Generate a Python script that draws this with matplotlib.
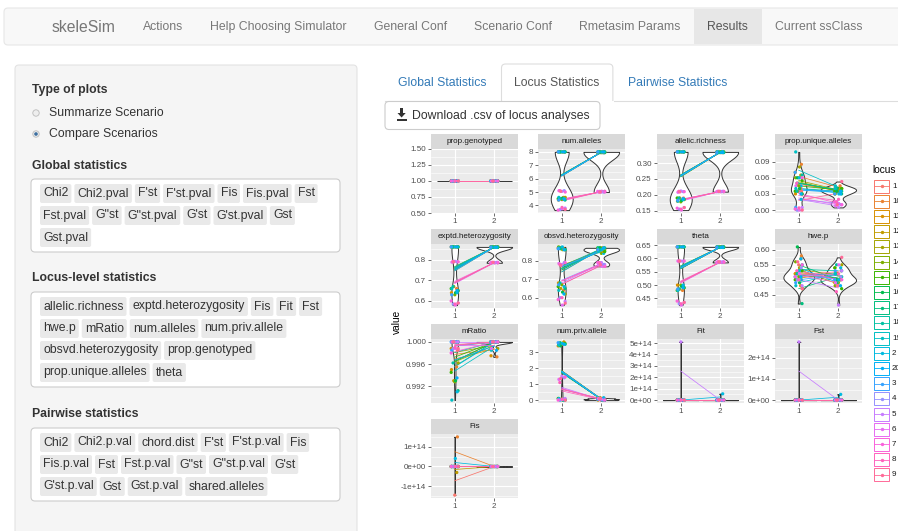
import numpy as np
import matplotlib
matplotlib.use('Agg')
import matplotlib.pyplot as plt
from matplotlib import mlab
from matplotlib.patches import Rectangle, FancyBboxPatch, Circle, Polygon

plt.rcParams['font.family'] = ['Liberation Sans', 'DejaVu Sans']

# ---------------- page texts ----------------
brand = 'skeleSim'
nav_items = ['Actions', 'Help Choosing Simulator', 'General Conf', 'Scenario Conf',
             'Rmetasim Params', 'Results', 'Current ssClass']
active_nav = 'Results'
plot_types = ['Summarize Scenario', 'Compare Scenarios']
global_rows = [['Chi2', 'Chi2.pval', "F'st", "F'st.pval", 'Fis', 'Fis.pval', 'Fst'],
               ['Fst.pval', 'G"st', 'G"st.pval', "G'st", "G'st.pval", 'Gst'],
               ['Gst.pval']]
locus_rows = [['allelic.richness', 'exptd.heterozygosity', 'Fis', 'Fit', 'Fst'],
              ['hwe.p', 'mRatio', 'num.alleles', 'num.priv.allele'],
              ['obsvd.heterozygosity', 'prop.genotyped'],
              ['prop.unique.alleles', 'theta']]
pair_rows = [['Chi2', 'Chi2.p.val', 'chord.dist', "F'st", "F'st.p.val", 'Fis'],
             ['Fis.p.val', 'Fst', 'Fst.p.val', 'G"st', 'G"st.p.val', "G'st"],
             ["G'st.p.val", 'Gst', 'Gst.p.val', 'shared.alleles']]
tabs = ['Global Statistics', 'Locus Statistics', 'Pairwise Statistics']
active_tab = 'Locus Statistics'
button_text = 'Download .csv of locus analyses'

# ---------------- chart data ----------------
# loci in legend order; per stat: two replicates for scenario 1 (_1a, _1b) and scenario 2 (_2a, _2b)
levels = ['1', '10', '11', '12', '13', '14', '15', '16', '17', '18',
          '19', '2', '20', '3', '4', '5', '6', '7', '8', '9']

pg_1a = [1.0] * 20
pg_1b = [1.0] * 20
pg_2a = [1.0] * 20
pg_2b = [1.0] * 20

na_1a = [8.0] * 14 + [5.1, 5.05, 5.1, 5.0, 5.1, 5.05]
na_1b = [4.5, 4.6, 4.4, 4.5, 4.6, 4.45, 4.5, 4.55, 4.4, 4.5, 4.6, 4.45, 4.5, 4.4,
         3.7, 3.8, 3.75, 3.65, 3.85, 3.7]
na_2a = [7.95] * 14 + [5.05] * 6
na_2b = [8.0] * 14 + [5.0] * 6

ar_1a = [0.335] * 14 + [0.21, 0.212, 0.208, 0.21, 0.211, 0.209]
ar_1b = [0.19, 0.185, 0.18, 0.19, 0.185, 0.178, 0.19, 0.182, 0.186, 0.19, 0.18, 0.185, 0.188, 0.183,
         0.155, 0.16, 0.152, 0.158, 0.155, 0.16]
ar_2a = [0.335] * 14 + [0.21] * 6
ar_2b = [0.333] * 14 + [0.211] * 6

pu_1a = [0.06, 0.085, 0.07, 0.065, 0.08, 0.06, 0.055, 0.06, 0.05, 0.065,
         0.108, 0.06, 0.045, 0.07, 0.04, 0.035, 0.045, 0.06, 0.05, 0.035]
pu_1b = [0.035, 0.04, 0.03, 0.035, 0.03, 0.045, 0.035, 0.04, 0.03, 0.035,
         0.04, 0.02, 0.03, 0.005, 0.0, 0.005, 0.0, 0.002, 0.004, 0.0]
pu_2a = [0.04, 0.045, 0.04, 0.035, 0.04, 0.04, 0.035, 0.04, 0.03, 0.04,
         0.045, 0.035, 0.03, 0.04, 0.015, 0.01, 0.012, 0.015, 0.02, 0.053]
pu_2b = [0.035, 0.04, 0.03, 0.04, 0.035, 0.03, 0.04, 0.035, 0.04, 0.035,
         0.04, 0.03, 0.035, 0.03, 0.01, 0.005, 0.008, 0.01, 0.015, 0.01]

eh_1a = [0.862] * 14 + [0.79, 0.792, 0.788, 0.79, 0.791, 0.789]
eh_1b = [0.65, 0.66, 0.64, 0.67, 0.65, 0.63, 0.66, 0.64, 0.65, 0.67, 0.66, 0.64, 0.65, 0.63,
         0.585, 0.59, 0.58, 0.6, 0.585, 0.59]
eh_2a = [0.862] * 14 + [0.785] * 6
eh_2b = [0.86] * 14 + [0.787] * 6

oh_1a = [0.87, 0.86, 0.87, 0.865, 0.86, 0.875, 0.86, 0.87, 0.865, 0.86, 0.87, 0.875, 0.86, 0.865,
         0.79, 0.78, 0.785, 0.79, 0.78, 0.775]
oh_1b = [0.66, 0.64, 0.68, 0.65, 0.62, 0.67, 0.66, 0.63, 0.65, 0.68, 0.64, 0.66, 0.62, 0.67,
         0.6, 0.58, 0.56, 0.59, 0.6, 0.57]
oh_2a = [0.87, 0.86, 0.85, 0.87, 0.86, 0.84, 0.87, 0.86, 0.85, 0.86, 0.87, 0.84, 0.86, 0.85,
         0.79, 0.78, 0.77, 0.79, 0.78, 0.77]
oh_2b = [0.86, 0.87, 0.86, 0.85, 0.87, 0.86, 0.85, 0.87, 0.86, 0.87, 0.85, 0.86, 0.87, 0.86,
         0.78, 0.79, 0.78, 0.77, 0.79, 0.78]

th_1a = [0.643] * 14 + [0.59] * 6
th_1b = [0.49, 0.48, 0.5, 0.485, 0.49, 0.5, 0.48, 0.495, 0.49, 0.485, 0.48, 0.5, 0.49, 0.485,
         0.43, 0.435, 0.425, 0.44, 0.43, 0.435]
th_2a = [0.643] * 14 + [0.585] * 6
th_2b = [0.641] * 14 + [0.587] * 6

hw_1a = [0.55, 0.58, 0.52, 0.57, 0.54, 0.56, 0.53, 0.61, 0.52, 0.55,
         0.5, 0.53, 0.57, 0.51, 0.54, 0.52, 0.5, 0.55, 0.53, 0.56]
hw_1b = [0.5, 0.48, 0.52, 0.5, 0.47, 0.51, 0.5, 0.49, 0.42, 0.52,
         0.48, 0.5, 0.51, 0.49, 0.5, 0.48, 0.52, 0.51, 0.5, 0.47]
hw_2a = [0.53, 0.5, 0.54, 0.52, 0.55, 0.49, 0.54, 0.5, 0.53, 0.55,
         0.52, 0.54, 0.5, 0.53, 0.49, 0.53, 0.55, 0.5, 0.52, 0.575]
hw_2b = [0.48, 0.5, 0.49, 0.51, 0.5, 0.48, 0.47, 0.5, 0.49, 0.51,
         0.52, 0.5, 0.48, 0.5, 0.51, 0.415, 0.49, 0.5, 0.46, 0.48]

mr_1a = [1.0, 1.0, 0.9988, 1.0, 1.0, 1.0, 1.0, 1.0, 1.0, 1.0,
         1.0, 1.0, 1.0, 1.0, 1.0, 1.0, 1.0, 0.9985, 1.0, 1.0]
mr_1b = [0.9985, 0.9955, 0.995, 0.993, 0.9962, 0.9928, 0.9945, 0.993, 0.9912, 0.9962,
         0.9895, 0.991, 0.9935, 0.9985, 0.9988, 1.0, 0.9988, 0.998, 0.999, 0.9988]
mr_2a = [1.0, 1.0, 0.9975, 1.0, 0.9988, 1.0, 1.0, 1.0, 1.0, 1.0,
         1.0, 1.0, 0.9985, 1.0, 1.0, 1.0, 1.0, 1.0, 1.0, 1.0]
mr_2b = [1.0, 0.9973, 1.0, 1.0, 1.0, 0.9988, 1.0, 1.0, 1.0, 1.0,
         0.9985, 1.0, 1.0, 1.0, 1.0, 1.0, 0.9988, 1.0, 1.0, 1.0]

np_1a = [3.5, 3.6, 3.4, 3.65, 3.5, 3.45, 3.55, 3.4, 3.6, 3.5, 3.45, 3.55, 3.5, 3.6,
         1.4, 1.5, 1.3, 1.45, 1.1, 1.35]
np_1b = [0.05, 0.0, 0.1, 0.05, 0.0, 0.05, 0.1, 0.0, 0.05, 0.0,
         0.1, 0.05, 0.0, 0.05, 0.0, 0.1, 0.05, 0.0, 0.05, 0.0]
np_2a = [0.05, 0.1, 0.0, 0.15, 0.05, 0.0, 0.1, 0.05, 0.0, 0.1,
         0.05, 0.15, 0.0, 0.05, 0.1, 0.0, 0.05, 0.1, 0.0, 0.05]
np_2b = [0.0, 0.05, 0.1, 0.0, 0.05, 0.1, 0.0, 0.05, 0.1, 0.0,
         0.05, 0.0, 0.1, 0.05, 0.0, 0.05, 0.1, 0.0, 0.05, 0.1]

fit_1a = [0.01, 0.0, 0.02, 0.01, 0.0, 0.03, 0.01, 0.02, 0.0, 0.01,
          0.02, 0.0, 0.01, 0.03, 0.02, 5.1e14, 0.01, 0.0, 0.02, 0.01]
fit_1b = [0.02, 0.01, 0.0, 0.03, 0.01, 0.02, 0.0, 0.01, 0.02, 0.0,
          0.01, 0.03, 0.02, 0.0, 0.01, 0.02, 0.0, 0.01, 0.03, 0.02]
fit_2a = [0.0, 0.02, 0.01, 0.0, 0.02, 0.01, 0.03, 0.0, 0.01, 0.02,
          0.01, 0.55e14, 0.0, 0.02, 0.01, 0.0, 0.02, 0.01, 0.0, 0.03]
fit_2b = [0.01, 0.0, 0.02, 0.01, 0.0, 0.02, 0.01, 0.03, 0.0, 0.01,
          0.02, 0.0, 0.01, 0.0, 0.02, 0.01, 0.0, 0.02, 0.01, 0.0]

fst_1a = [0.01, 0.0, 0.02, 0.01, 0.0, 0.03, 0.01, 0.02, 0.0, 0.01,
          0.02, 0.0, 0.01, 0.03, 0.02, 2.75e14, 0.01, 0.0, 0.02, 0.01]
fst_1b = [0.02, 0.01, 0.0, 0.03, 0.01, 0.02, 0.0, 0.01, 0.02, 0.0,
          0.01, 0.03, 0.02, 0.0, 0.01, 0.02, 0.0, 0.01, 0.03, 0.02]
fst_2a = [0.0, 0.02, 0.01, 0.0, 0.02, 0.01, 0.03, 0.0, 0.01, 0.02,
          0.01, 0.27e14, 0.0, 0.02, 0.01, 0.0, 0.02, 0.01, 0.0, 0.03]
fst_2b = [0.01, 0.0, 0.02, 0.01, 0.0, 0.02, 0.01, 0.03, 0.0, 0.01,
          0.02, 0.0, 0.01, 0.0, 0.02, 0.01, 0.0, 0.02, 0.01, 0.0]

fis_1a = [-1.43e14, 1.48e14, 0.02, -0.3e14, 0.0, -0.01, 0.02, 0.01, -0.02, 0.0,
          0.01, 0.4e14, 0.0, 0.02, -0.01, 0.0, 0.01, -0.02, 0.0, 0.01]
fis_1b = [0.01, -0.02, 0.0, 0.01, 0.02, 0.0, -0.01, 0.0, 0.01, -0.01,
          0.02, 0.0, 0.01, -0.02, 0.0, 0.01, 0.0, -0.01, 0.02, 0.0]
fis_2a = [0.0, 0.01, -0.01, 0.02, 0.0, -0.02, 0.01, 0.0, 0.02, -0.01,
          0.0, 0.01, -0.01, 0.0, 0.02, 0.0, -0.01, 0.01, 0.0, 0.02]
fis_2b = [0.01, 0.0, 0.02, -0.01, 0.01, 0.0, -0.02, 0.01, 0.0, 0.01,
          -0.01, 0.0, 0.02, 0.01, 0.0, -0.01, 0.0, 0.02, -0.01, 0.0]

facets = [
    ('prop.genotyped', pg_1a, pg_1b, pg_2a, pg_2b, [0.5, 0.75, 1.0, 1.25, 1.5], ['0.50', '0.75', '1.00', '1.25', '1.50']),
    ('num.alleles', na_1a, na_1b, na_2a, na_2b, [4, 5, 6, 7, 8], ['4', '5', '6', '7', '8']),
    ('allelic.richness', ar_1a, ar_1b, ar_2a, ar_2b, [0.15, 0.2, 0.25, 0.3], ['0.15', '0.20', '0.25', '0.30']),
    ('prop.unique.alleles', pu_1a, pu_1b, pu_2a, pu_2b, [0.0, 0.03, 0.06, 0.09], ['0.00', '0.03', '0.06', '0.09']),
    ('exptd.heterozygosity', eh_1a, eh_1b, eh_2a, eh_2b, [0.6, 0.7, 0.8], ['0.6', '0.7', '0.8']),
    ('obsvd.heterozygosity', oh_1a, oh_1b, oh_2a, oh_2b, [0.6, 0.7, 0.8], ['0.6', '0.7', '0.8']),
    ('theta', th_1a, th_1b, th_2a, th_2b, [0.45, 0.5, 0.55, 0.6, 0.65], ['0.45', '0.50', '0.55', '0.60', '0.65']),
    ('hwe.p', hw_1a, hw_1b, hw_2a, hw_2b, [0.45, 0.5, 0.55, 0.6], ['0.45', '0.50', '0.55', '0.60']),
    ('mRatio', mr_1a, mr_1b, mr_2a, mr_2b, [0.992, 0.996, 1.0], ['0.992', '0.996', '1.000']),
    ('num.priv.allele', np_1a, np_1b, np_2a, np_2b, [0, 1, 2, 3], ['0', '1', '2', '3']),
    ('Fit', fit_1a, fit_1b, fit_2a, fit_2b, [0, 1e14, 2e14, 3e14, 4e14, 5e14],
     ['0e+00', '1e+14', '2e+14', '3e+14', '4e+14', '5e+14']),
    ('Fst', fst_1a, fst_1b, fst_2a, fst_2b, [0, 1e14, 2e14], ['0e+00', '1e+14', '2e+14']),
    ('Fis', fis_1a, fis_1b, fis_2a, fis_2b, [-1e14, 0, 1e14], ['-1e+14', '0e+00', '1e+14']),
]


def hue_pal(n, c=100.0, l=65.0):
    # ggplot2 default discrete palette (polar Luv -> sRGB)
    m = np.array([[3.2404542, -1.5371385, -0.4985314],
                  [-0.9692660, 1.8760108, 0.0415560],
                  [0.0556434, -0.2040259, 1.0572252]])
    un, vn = 0.1978398, 0.4683363
    out = []
    for h in np.linspace(15, 375, n + 1)[:n]:
        u = c * np.cos(np.deg2rad(h))
        v = c * np.sin(np.deg2rad(h))
        Y = ((l + 16) / 116) ** 3
        up = u / (13 * l) + un
        vp = v / (13 * l) + vn
        X = Y * 9 * up / (4 * vp)
        Z = Y * (12 - 3 * up - 20 * vp) / (4 * vp)
        rgb = m @ np.array([X, Y, Z])
        rgb = np.clip(rgb, 0, None)
        rgb = np.where(rgb <= 0.0031308, 12.92 * rgb, 1.055 * rgb ** (1 / 2.4) - 0.055)
        out.append(tuple(np.clip(rgb, 0, 1)))
    return out


def nrd0(x):
    hi = np.std(x, ddof=1)
    q75, q25 = np.percentile(x, [75, 25])
    lo = min(hi, (q75 - q25) / 1.34)
    if lo == 0:
        lo = hi or abs(x[0]) or 1.0
    return 0.9 * lo * len(x) ** -0.2


cols = hue_pal(len(levels))
W, H = 898, 531
fig = plt.figure(figsize=(W / 100, H / 100), dpi=100)
fig.patch.set_facecolor('white')
ui = fig.add_axes([0, 0, 1, 1])
ui.set_xlim(0, W)
ui.set_ylim(H, 0)
ui.axis('off')
rend = fig.canvas.get_renderer()
UI = 8.85


def rbox(x, y, w, h, fc, ec, rad=4, lw=0.8, z=1):
    ui.add_patch(FancyBboxPatch((x, y), w, h, boxstyle='round,pad=0,rounding_size=%g' % rad,
                                fc=fc, ec=ec, lw=lw, zorder=z))


def width_of(t):
    return t.get_window_extent(renderer=rend).width


# navbar
rbox(4, 8, 910, 37, '#f8f8f8', '#e7e7e7')
ui.text(52, 27, brand, fontsize=11.3, color='#777777', va='center', zorder=3)
x = 143
for item in nav_items:
    t = ui.text(x, 27, item, fontsize=UI, color='#777777', va='center', zorder=3)
    w = width_of(t)
    if item == active_nav:
        ui.add_patch(Rectangle((x - 13.5, 8.6), w + 27, 35.8, fc='#e7e7e7', ec='none', zorder=2))
        t.set_color('#555555')
    x += w + 27

# sidebar
rbox(15, 65, 342, 500, '#f5f5f5', '#e3e3e3')
ui.text(32, 90, 'Type of plots', fontsize=UI, fontweight='bold', color='#333333', va='center')
for k, lab in enumerate(plot_types):
    yc = 113 + 21 * k
    ui.add_patch(Circle((36, yc), 3.2, fc='#eeeeee', ec='#bbbbbb', lw=0.6, zorder=2))
    if k == 1:
        ui.add_patch(Circle((36, yc), 1.8, fc='#3d6fa0', ec='none', zorder=3))
    ui.text(49, yc, lab, fontsize=UI, color='#333333', va='center')


def tag_block(title, rows, ytitle, ybox, hbox):
    ui.text(32, ytitle, title, fontsize=UI, fontweight='bold', color='#333333', va='center')
    rbox(31, ybox, 309, hbox, 'white', '#cccccc', z=2)
    for k, row in enumerate(rows):
        yc = ybox + 14.5 + 22 * k
        xx = 40
        for lab in row:
            t = ui.text(xx + 3, yc, lab, fontsize=UI, color='#333333', va='center', zorder=4)
            w = width_of(t)
            ui.add_patch(FancyBboxPatch((xx, yc - 9.5), w + 6, 19, boxstyle='round,pad=0,rounding_size=2',
                                        fc='#e9e9e9', ec='none', zorder=3))
            xx += w + 9


tag_block('Global statistics', global_rows, 166, 179, 73)
tag_block('Locus-level statistics', locus_rows, 278, 292, 95)
tag_block('Pairwise statistics', pair_rows, 414, 428, 73)

# tabs
ui.plot([385, W], [100.5, 100.5], color='#dddddd', lw=0.8, zorder=1)
x = 385
for tab in tabs:
    t = ui.text(x + 13, 83, tab, fontsize=UI, va='center', zorder=4,
                color='#555555' if tab == active_tab else '#337ab7')
    w = width_of(t)
    if tab == active_tab:
        rbox(x, 64, w + 26, 40, 'white', '#dddddd', z=2)
        ui.add_patch(Rectangle((x - 1, 101), w + 28, 4, fc='white', ec='none', zorder=2.5))
    x += w + 28

# download button
rbox(385, 101.5, 215, 28, 'white', '#cccccc', z=3)
ui.text(412, 115.5, button_text, fontsize=UI, color='#333333', va='center', zorder=4)
ui.add_patch(Rectangle((400.3, 107.5), 2.6, 6, fc='#333333', ec='none', zorder=4))
ui.add_patch(Polygon([(397.5, 113), (405.7, 113), (401.6, 117.5)], closed=True, fc='#333333', ec='none', zorder=4))
ui.add_patch(Rectangle((396.5, 118.5), 10.2, 2.8, fc='#333333', ec='none', zorder=4))

# ---------------- faceted chart ----------------
col_x = [431, 538, 657, 775]
row_y = [149, 244, 339, 434]
PW, PH, SH = 87, 64, 15
jit_a = 0.09 * np.sin(np.arange(20) * 2.3)
jit_b = 0.09 * np.sin(np.arange(20) * 1.7 + 0.9)

for n, (name, s1a, s1b, s2a, s2b, ticks, labels) in enumerate(facets):
    px, py = col_x[n % 4], row_y[n // 4]
    ax = fig.add_axes([px / W, 1 - (py + PH) / H, PW / W, PH / H])
    ui.add_patch(Rectangle((px, py - SH), PW, SH, fc='#d9d9d9', ec='none', zorder=2))
    ui.text(px + PW / 2, py - SH / 2, name, fontsize=5.8, color='#1a1a1a', ha='center', va='center', zorder=3)

    s1a, s1b, s2a, s2b = (np.asarray(v, float) for v in (s1a, s1b, s2a, s2b))
    d1, d2 = np.r_[s1a, s1b], np.r_[s2a, s2b]
    m1, m2 = (s1a + s1b) / 2, (s2a + s2b) / 2
    lo, hi = min(d1.min(), d2.min()), max(d1.max(), d2.max())
    if hi == lo:
        ylim = (lo - 0.5, hi + 0.5)
    else:
        ylim = (lo - 0.05 * (hi - lo), hi + 0.05 * (hi - lo))

    # violins, area-scaled within the panel
    dens = []
    for d in (d1, d2):
        sd = np.std(d, ddof=1)
        if sd == 0:
            dens.append(None)
            continue
        f = nrd0(d) / sd
        kde = mlab.GaussianKDE(d, f)
        dens.append((f, kde.evaluate(np.linspace(d.min(), d.max(), 512)).max()))
    top = max([dd[1] for dd in dens if dd is not None] or [1])
    for pos, d, dd in zip([1, 2], [d1, d2], dens):
        if dd is None:
            ax.hlines(d[0], pos - 0.45, pos + 0.45, color='#333333', lw=0.7, zorder=2)
            continue
        vp = ax.violinplot([d], positions=[pos], widths=0.9 * dd[1] / top, bw_method=dd[0],
                           showextrema=False, points=512)
        for b in vp['bodies']:
            b.set_facecolor('white')
            b.set_edgecolor('#333333')
            b.set_alpha(1)
            b.set_linewidth(0.7)
            b.set_zorder(2)

    for i in range(len(levels)):
        ax.plot([1, 2], [m1[i], m2[i]], color=cols[i], lw=0.55, zorder=3)
    for xs, ys in ((1 + jit_a, s1a), (1 + jit_b, s1b), (2 + jit_b, s2a), (2 + jit_a, s2b)):
        ax.scatter(xs, ys, c=cols, s=5.5, linewidths=0, zorder=4)

    ax.set_xlim(0.4, 2.6)
    ax.set_ylim(*ylim)
    ax.set_xticks([1, 2], ['1', '2'])
    ax.set_yticks(ticks, labels)
    step = ticks[1] - ticks[0]
    minor = np.arange(ticks[0] - step / 2, ticks[-1] + step, step)
    ax.set_yticks(minor[(minor > ylim[0]) & (minor < ylim[1])], minor=True)
    ax.set_facecolor('#ebebeb')
    ax.grid(which='major', color='white', lw=0.8)
    ax.grid(which='minor', axis='y', color='white', lw=0.4)
    ax.set_axisbelow(True)
    for s in ax.spines.values():
        s.set_visible(False)
    ax.tick_params(which='major', length=2.2, width=0.5, color='#333333', labelsize=5.8,
                   labelcolor='#4d4d4d', pad=1.5)
    ax.tick_params(which='minor', length=0)

ui.text(397, 322, 'value', fontsize=7.3, rotation=90, ha='center', va='center', color='black')

# legend (labels run off the right edge, as in the screenshot)
ui.text(872, 170, 'locus', fontsize=7.3, va='center', color='black')
for k, (lab, col) in enumerate(zip(levels, cols)):
    yc = 186 + 15.2 * k
    ui.add_patch(Rectangle((874, yc - 6.5), 15, 13, fc='white', ec=col, lw=0.7, zorder=3))
    ui.plot([874, 889], [yc, yc], color=col, lw=0.6, zorder=4)
    ui.scatter([881.5], [yc], color=[col], s=6, linewidths=0, zorder=5)
    ui.text(892, yc, lab, fontsize=5.8, va='center', color='#1a1a1a')

fig.savefig('out.png', dpi=100, facecolor='white')
